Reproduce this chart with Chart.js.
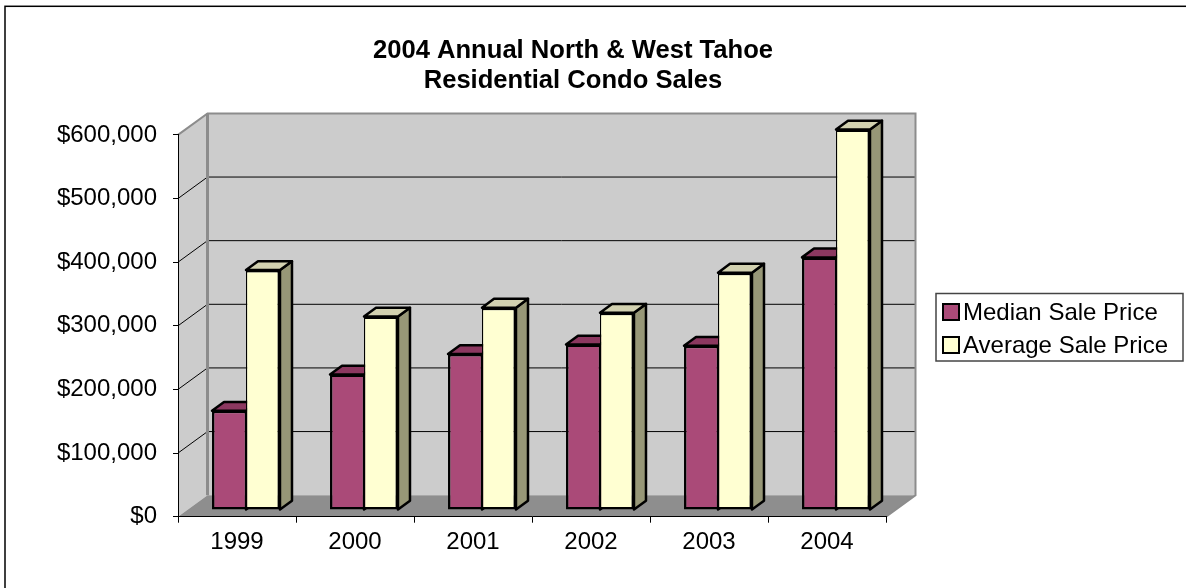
<!DOCTYPE html>
<html>
<head>
<meta charset="utf-8">
<title>2004 Annual North & West Tahoe Residential Condo Sales</title>
<script src="https://cdn.jsdelivr.net/npm/chart.js@4.4.1/dist/chart.umd.min.js"></script>
<style>
    html, body { margin: 0; padding: 0; background: #ffffff; }
    #wrap { width: 1186px; height: 588px; position: relative; }
</style>
</head>
<body>
<div id="wrap"><canvas id="condoChart" width="1186" height="588"></canvas></div>
<script>
const years = ['1999', '2000', '2001', '2002', '2003', '2004'];
const medianPrice = [156000, 213000, 245000, 260000, 258000, 397000];
const averagePrice = [377000, 304000, 318000, 310000, 373000, 598000];
const seriesNames = ['Median Sale Price', 'Average Sale Price'];
const yMax = 600000;
const yStep = 100000;

const FONT = "'Liberation Sans', Arial, sans-serif";

// fake 3d offsets (pixels)
const WALL_DX = 29.5, WALL_DY = -21.5;
const BAR_DX = 9, BAR_DY = -6.7;
const DEPTH_DX = 12, DEPTH_DY = -8.8;

const faceColors = [
    { top: '#8c3860', side: '#6e2a4c' },
    { top: '#d2d1b0', side: '#979777' }
];

// walls, floor and gridlines behind the bars
const wallsPlugin = {
    id: 'walls',
    beforeDraw(chart) {
        const ctx = chart.ctx;
        const a = chart.chartArea;
        const y = chart.scales.y;
        const L = a.left, R = a.right, T = y.getPixelForValue(yMax), B = y.getPixelForValue(0);

        ctx.save();
        // outer chart border
        ctx.strokeStyle = '#000';
        ctx.lineWidth = 1.5;
        ctx.strokeRect(5, 6.3, 1300, 700);

        // back wall
        ctx.fillStyle = '#cccccc';
        ctx.fillRect(L + WALL_DX, T + WALL_DY, R - L, B - T);
        // left wall
        ctx.beginPath();
        ctx.moveTo(L, T);
        ctx.lineTo(L + WALL_DX, T + WALL_DY);
        ctx.lineTo(L + WALL_DX, B + WALL_DY);
        ctx.lineTo(L, B);
        ctx.closePath();
        ctx.fill();
        // floor
        ctx.fillStyle = '#8e8e8e';
        ctx.beginPath();
        ctx.moveTo(L, B);
        ctx.lineTo(R, B);
        ctx.lineTo(R + WALL_DX, B + WALL_DY);
        ctx.lineTo(L + WALL_DX, B + WALL_DY);
        ctx.closePath();
        ctx.fill();

        // gridlines
        ctx.strokeStyle = '#000';
        ctx.lineWidth = 1;
        y.ticks.forEach(t => {
            if (t.value <= 0 || t.value >= yMax) return;
            const py = y.getPixelForValue(t.value);
            ctx.beginPath();
            ctx.moveTo(L, py);
            ctx.lineTo(L + WALL_DX, py + WALL_DY);
            ctx.lineTo(R + WALL_DX, py + WALL_DY);
            ctx.stroke();
        });

        // wall edges
        ctx.strokeStyle = '#8c8c8c';
        ctx.lineWidth = 2;
        ctx.beginPath();
        ctx.moveTo(L, T);
        ctx.lineTo(L + WALL_DX, T + WALL_DY);
        ctx.lineTo(R + WALL_DX, T + WALL_DY);
        ctx.lineTo(R + WALL_DX, B + WALL_DY);
        ctx.lineTo(R, B);
        ctx.stroke();
        ctx.lineWidth = 3;
        ctx.beginPath();
        ctx.moveTo(L + WALL_DX, T + WALL_DY);
        ctx.lineTo(L + WALL_DX, B + WALL_DY);
        ctx.stroke();
        ctx.restore();
    }
};

// shift bars back into the box and add tops / sides
const barsPlugin = {
    id: 'bars3d',
    beforeDatasetsDraw(chart) {
        const ctx = chart.ctx;
        ctx.save();
        ctx.translate(BAR_DX, BAR_DY);
        ctx.lineWidth = 2.5;
        ctx.lineJoin = 'round';
        ctx.strokeStyle = '#000';
        chart.data.datasets.forEach((ds, di) => {
            const meta = chart.getDatasetMeta(di);
            meta.data.forEach(bar => {
                const x1 = bar.x - bar.width / 2, x2 = bar.x + bar.width / 2;
                const top = bar.y, base = bar.base;
                ctx.fillStyle = faceColors[di].side;
                ctx.beginPath();
                ctx.moveTo(x2, top);
                ctx.lineTo(x2 + DEPTH_DX, top + DEPTH_DY);
                ctx.lineTo(x2 + DEPTH_DX, base + DEPTH_DY);
                ctx.lineTo(x2, base);
                ctx.closePath();
                ctx.fill();
                ctx.stroke();
                ctx.fillStyle = faceColors[di].top;
                ctx.beginPath();
                ctx.moveTo(x1, top);
                ctx.lineTo(x1 + DEPTH_DX, top + DEPTH_DY);
                ctx.lineTo(x2 + DEPTH_DX, top + DEPTH_DY);
                ctx.lineTo(x2, top);
                ctx.closePath();
                ctx.fill();
                ctx.stroke();
            });
        });
    },
    afterDatasetsDraw(chart) {
        chart.ctx.restore();
    }
};

// boxed legend on the right
const legendBoxPlugin = {
    id: 'legendBox',
    afterDraw(chart) {
        const ctx = chart.ctx;
        ctx.save();
        ctx.strokeStyle = '#444';
        ctx.lineWidth = 1.5;
        ctx.strokeRect(936, 293.5, 247, 67.5);
        ctx.font = '24px ' + FONT;
        ctx.textBaseline = 'middle';
        ctx.fillStyle = '#000';
        chart.data.datasets.forEach((ds, i) => {
            const cy = 312 + i * 33;
            ctx.fillStyle = ds.backgroundColor;
            ctx.fillRect(943, cy - 8, 16, 16);
            ctx.strokeStyle = '#000';
            ctx.lineWidth = 2;
            ctx.strokeRect(943, cy - 8, 16, 16);
            ctx.fillStyle = '#000';
            ctx.fillText(ds.label, 963, cy + 1);
        });
        ctx.restore();
    }
};

const ctx = document.getElementById('condoChart').getContext('2d');
new Chart(ctx, {
    type: 'bar',
    data: {
        labels: years,
        datasets: [{
            label: seriesNames[0],
            data: medianPrice,
            backgroundColor: '#aa4a78',
            borderColor: '#000',
            borderWidth: { left: 2.5, right: 1.25, top: 2.5, bottom: 2.5 },
            borderSkipped: false,
            clip: false
        }, {
            label: seriesNames[1],
            data: averagePrice,
            backgroundColor: '#ffffd2',
            borderColor: '#000',
            borderWidth: { left: 1.25, right: 2.5, top: 2.5, bottom: 2.5 },
            borderSkipped: false,
            clip: false
        }]
    },
    options: {
        responsive: false,
        animation: false,
        layout: { padding: { left: 0, right: 40, top: 0, bottom: 0 } },
        datasets: {
            bar: { categoryPercentage: 0.576, barPercentage: 1 }
        },
        scales: {
            x: {
                grid: { offset: true, drawOnChartArea: false, tickLength: 6, color: '#000' },
                border: { display: true, color: '#000', width: 1 },
                ticks: { color: '#000', padding: 5, font: { family: FONT, size: 24 } },
                afterFit: s => { s.height = 71.3; }
            },
            y: {
                min: 0,
                max: yMax,
                grid: { drawOnChartArea: false, tickLength: 5, color: '#000' },
                border: { display: true, color: '#000', width: 1 },
                ticks: {
                    stepSize: yStep,
                    color: '#000',
                    padding: 16,
                    font: { family: FONT, size: 24 },
                    callback: v => '$' + v.toLocaleString('en-US')
                },
                afterFit: s => { s.width = 178; }
            },
            pad: {
                type: 'linear',
                position: 'right',
                grid: { display: false },
                border: { display: false },
                ticks: { display: false },
                afterFit: s => { s.width = 260; }
            }
        },
        plugins: {
            legend: { display: false },
            tooltip: { enabled: false },
            title: {
                display: true,
                text: ['2004 Annual North & West Tahoe', 'Residential Condo Sales'],
                color: '#000',
                font: { family: FONT, size: 25.6, weight: 'bold', lineHeight: 1.17 },
                padding: { top: 36, bottom: 39 }
            }
        }
    },
    plugins: [wallsPlugin, barsPlugin, legendBoxPlugin]
});
</script>
</body>
</html>
